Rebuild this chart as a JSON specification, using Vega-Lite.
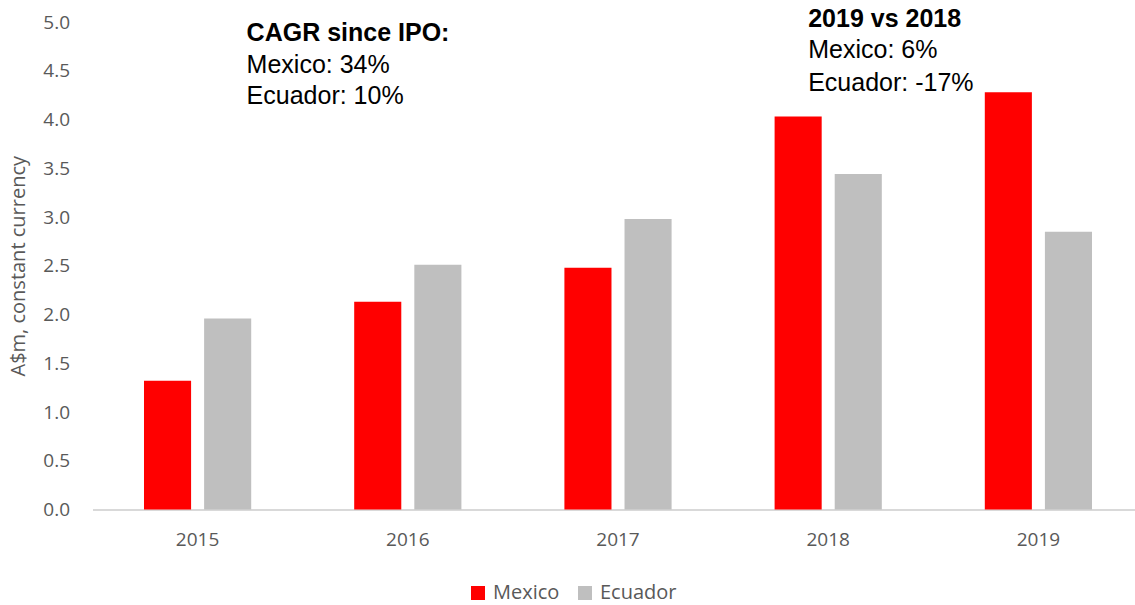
{
  "$schema": "https://vega.github.io/schema/vega-lite/v6.json",
  "autosize": "none",
  "width": 1042.5,
  "height": 487.5,
  "padding": {"left": 92.5, "top": 22, "right": 0, "bottom": 95.5},
  "background": "white",
  "config": {
    "view": {"stroke": null},
    "font": "Open Sans",
    "axis": {"labelFont": "Open Sans", "titleFont": "Open Sans", "labelColor": "#595959", "titleColor": "#595959", "grid": false, "ticks": false}
  },
  "datasets": {
    "sales": [
      {"year": "2015", "country": "Mexico", "value": 1.32},
      {"year": "2015", "country": "Ecuador", "value": 1.96},
      {"year": "2016", "country": "Mexico", "value": 2.13},
      {"year": "2016", "country": "Ecuador", "value": 2.51},
      {"year": "2017", "country": "Mexico", "value": 2.48},
      {"year": "2017", "country": "Ecuador", "value": 2.98},
      {"year": "2018", "country": "Mexico", "value": 4.03},
      {"year": "2018", "country": "Ecuador", "value": 3.44},
      {"year": "2019", "country": "Mexico", "value": 4.28},
      {"year": "2019", "country": "Ecuador", "value": 2.85}
    ],
    "notes": [
      {"year": "2015", "value": 4.805, "label": "CAGR since IPO:", "bold": true, "side": "left"},
      {"year": "2015", "value": 4.474, "label": "Mexico: 34%", "bold": false, "side": "left"},
      {"year": "2015", "value": 4.156, "label": "Ecuador: 10%", "bold": false, "side": "left"},
      {"year": "2018", "value": 4.946, "label": "2019 vs 2018", "bold": true, "side": "right"},
      {"year": "2018", "value": 4.628, "label": "Mexico: 6%", "bold": false, "side": "right"},
      {"year": "2018", "value": 4.295, "label": "Ecuador: -17%", "bold": false, "side": "right"}
    ]
  },
  "layer": [
    {
      "data": {"name": "sales"},
      "mark": {"type": "bar"},
      "encoding": {
        "x": {
          "field": "year", "type": "nominal",
          "scale": {"paddingInner": 0.49, "paddingOuter": 0.245, "range": [0, 1051]},
          "axis": {"title": null, "labelAngle": 0, "labelFontSize": 19, "labelPadding": 21, "domainColor": "#D9D9D9", "domainWidth": 2}
        },
        "xOffset": {
          "field": "country", "type": "nominal",
          "sort": ["Mexico", "Ecuador"],
          "scale": {"paddingInner": 0.2167, "paddingOuter": 0}
        },
        "y": {
          "field": "value", "type": "quantitative",
          "scale": {"domain": [0, 5], "nice": false},
          "axis": {"title": "A$m, constant currency", "titleFontSize": 20, "titleFontWeight": "normal", "labelFontSize": 19, "labelPadding": 23, "domain": false, "values": [0, 0.5, 1, 1.5, 2, 2.5, 3, 3.5, 4, 4.5, 5], "format": ".1f", "titlePadding": 14}
        },
        "color": {
          "field": "country", "type": "nominal",
          "sort": ["Mexico", "Ecuador"],
          "scale": {"domain": ["Mexico", "Ecuador"], "range": ["#FF0000", "#BFBFBF"]},
          "legend": {"title": null, "orient": "none", "direction": "horizontal", "legendX": 375.5, "legendY": 561, "symbolType": "square", "symbolSize": 196, "symbolStrokeWidth": 0, "labelFontSize": 20, "labelColor": "#595959", "labelFont": "Open Sans", "labelOffset": 5, "columnPadding": 15}
        }
      }
    },
    {
      "data": {"name": "notes"},
      "transform": [{"filter": "datum.side == 'left' && datum.bold"}],
      "mark": {"type": "text", "align": "left", "baseline": "alphabetic", "dx": 49, "font": "Liberation Sans", "fontSize": 25, "fontWeight": "bold", "color": "black"},
      "encoding": {
        "x": {"field": "year", "type": "nominal"},
        "y": {"field": "value", "type": "quantitative"},
        "text": {"field": "label"}
      }
    },
    {
      "data": {"name": "notes"},
      "transform": [{"filter": "datum.side == 'left' && !datum.bold"}],
      "mark": {"type": "text", "align": "left", "baseline": "alphabetic", "dx": 49, "font": "Liberation Sans", "fontSize": 25, "color": "black"},
      "encoding": {
        "x": {"field": "year", "type": "nominal"},
        "y": {"field": "value", "type": "quantitative"},
        "text": {"field": "label"}
      }
    },
    {
      "data": {"name": "notes"},
      "transform": [{"filter": "datum.side == 'right' && datum.bold"}],
      "mark": {"type": "text", "align": "left", "baseline": "alphabetic", "dx": -20, "font": "Liberation Sans", "fontSize": 25, "fontWeight": "bold", "color": "black"},
      "encoding": {
        "x": {"field": "year", "type": "nominal"},
        "y": {"field": "value", "type": "quantitative"},
        "text": {"field": "label"}
      }
    },
    {
      "data": {"name": "notes"},
      "transform": [{"filter": "datum.side == 'right' && !datum.bold"}],
      "mark": {"type": "text", "align": "left", "baseline": "alphabetic", "dx": -20, "font": "Liberation Sans", "fontSize": 25, "color": "black"},
      "encoding": {
        "x": {"field": "year", "type": "nominal"},
        "y": {"field": "value", "type": "quantitative"},
        "text": {"field": "label"}
      }
    }
  ]
}
